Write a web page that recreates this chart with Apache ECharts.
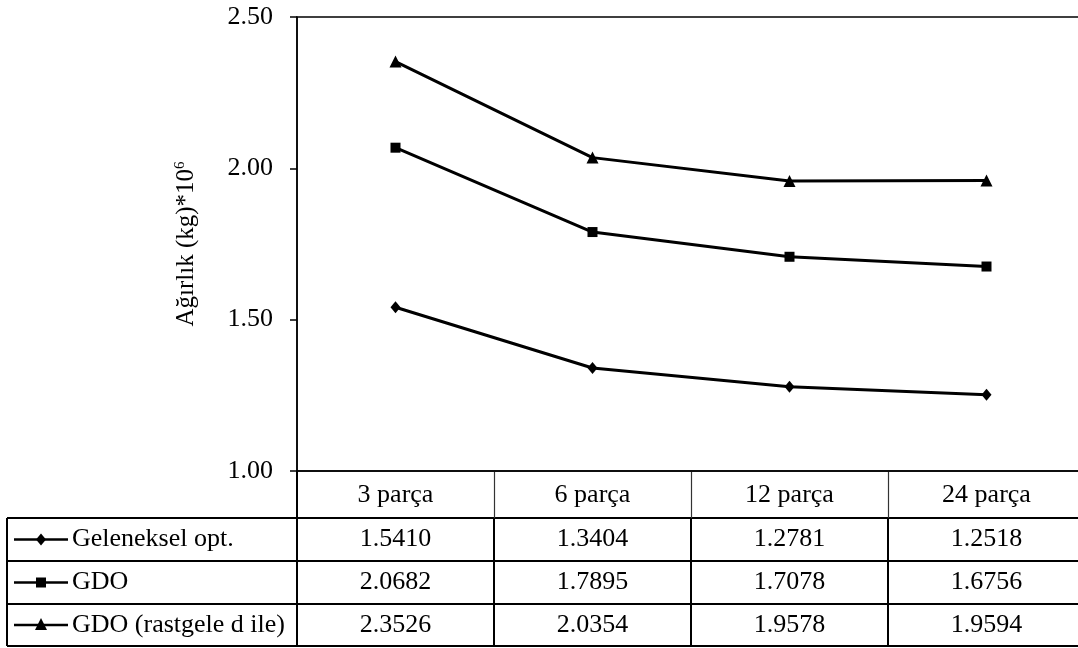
<!DOCTYPE html>
<html>
<head>
<meta charset="utf-8">
<script src="https://cdn.jsdelivr.net/npm/echarts@6/dist/echarts.min.js"></script>
<style>
  html, body { margin: 0; padding: 0; background: #fff; }
  #chart { width: 1078px; height: 648px; }
</style>
</head>
<body>
<div id="chart"></div>
<script>
// Weight (kg)*10^6 for each partition count, three optimisation methods
const categories = ['3 parça', '6 parça', '12 parça', '24 parça'];
const seriesNames = ['Geleneksel opt.', 'GDO', 'GDO (rastgele d ile)'];
const geleneksel = [1.5410, 1.3404, 1.2781, 1.2518];
const gdo = [2.0682, 1.7895, 1.7078, 1.6756];
const gdoRastgele = [2.3526, 2.0354, 1.9578, 1.9594];
const seriesValues = [geleneksel, gdo, gdoRastgele];
const seriesSymbols = ['diamond', 'rect', 'triangle'];
const symbolSizes = [[10, 12], 10, 12];
const yMin = 1.0, yMax = 2.5, yStep = 0.5;

const FONT = '"Liberation Serif", "Times New Roman", serif';
const FS = 26;

// table geometry (rows below the plot)
const plotLeft = 297, plotTop = 17, plotWidth = 788, plotBottom = 471;
const rowLines = [518, 561, 604, 646];
const tableLeft = 7;

const chart = echarts.init(document.getElementById('chart'), null, { renderer: 'canvas' });

const series = seriesNames.map((name, i) => ({
  name: name,
  type: 'line',
  data: seriesValues[i],
  symbol: seriesSymbols[i],
  symbolSize: symbolSizes[i],
  showAllSymbol: true,
  lineStyle: { color: '#000', width: 3 },
  itemStyle: { color: '#000' },
  animation: false
}));

chart.setOption({
  animation: false,
  textStyle: { fontFamily: FONT },
  grid: {
    left: plotLeft, top: plotTop, width: plotWidth, height: plotBottom - plotTop,
    show: true, borderColor: '#000', borderWidth: 1.5,
    containLabel: false, outerBoundsMode: 'none'
  },
  xAxis: {
    type: 'category',
    data: categories,
    boundaryGap: true,
    axisLine: { show: true, lineStyle: { color: '#000', width: 1.5 } },
    axisTick: { show: false },
    axisLabel: { show: true, color: '#000', fontFamily: FONT, fontSize: FS, margin: 11 },
    splitLine: { show: false }
  },
  yAxis: {
    type: 'value',
    min: yMin, max: yMax, interval: yStep,
    name: 'Ağırlık (kg)*10{sup|6}',
    nameLocation: 'middle',
    nameRotate: 90,
    nameGap: 97,
    nameTextStyle: {
      color: '#000', fontFamily: FONT, fontSize: 25,
      rich: { sup: { fontSize: 15, fontFamily: FONT, color: '#000', padding: [0, 0, 12, 0] } }
    },
    axisLine: { show: true, lineStyle: { color: '#000', width: 1.5 } },
    axisTick: { show: true, inside: false, length: 7, lineStyle: { color: '#000', width: 1.5 } },
    axisLabel: { color: '#000', fontFamily: FONT, fontSize: FS, margin: 24, formatter: v => v.toFixed(2) },
    splitLine: { show: false }
  },
  series: series
});

// data table under the plot, columns aligned with the category axis
function buildTable() {
  const centers = categories.map((c, i) => chart.convertToPixel({ xAxisIndex: 0 }, i));
  const band = centers[1] - centers[0];
  const els = [];
  const stroke = { stroke: '#000', lineWidth: 2 };

  // axis line continues down through the table
  els.push({ type: 'line', shape: { x1: plotLeft, y1: plotBottom, x2: plotLeft, y2: rowLines[3] }, style: stroke });
  // horizontal row rules
  rowLines.forEach(y => {
    els.push({ type: 'line', shape: { x1: tableLeft, y1: y, x2: 1078, y2: y }, style: stroke });
  });
  // outer left edge
  els.push({ type: 'line', shape: { x1: tableLeft, y1: rowLines[0], x2: tableLeft, y2: rowLines[3] }, style: stroke });
  // column dividers
  centers.forEach((cx, i) => {
    const xr = Math.round(cx + band / 2);
    els.push({ type: 'line', shape: { x1: xr + 0.5, y1: plotBottom, x2: xr + 0.5, y2: rowLines[0] }, style: { stroke: '#333', lineWidth: 1.2 } });
    els.push({ type: 'line', shape: { x1: xr, y1: rowLines[0], x2: xr, y2: rowLines[3] }, style: stroke });
  });

  seriesValues.forEach((vals, r) => {
    const yc = (rowLines[r] + rowLines[r + 1]) / 2;
    // legend key: line with marker
    els.push({ type: 'line', shape: { x1: 14, y1: yc, x2: 68, y2: yc }, style: { stroke: '#000', lineWidth: 2.5 } });
    const mx = 41;
    if (seriesSymbols[r] === 'diamond') {
      els.push({ type: 'polygon', shape: { points: [[mx, yc - 6], [mx + 5, yc], [mx, yc + 6], [mx - 5, yc]] }, style: { fill: '#000' } });
    } else if (seriesSymbols[r] === 'rect') {
      els.push({ type: 'rect', shape: { x: mx - 5, y: yc - 5, width: 10, height: 10 }, style: { fill: '#000' } });
    } else {
      els.push({ type: 'polygon', shape: { points: [[mx, yc - 7], [mx + 6, yc + 5], [mx - 6, yc + 5]] }, style: { fill: '#000' } });
    }
    els.push({ type: 'text', x: 72, y: yc, style: { text: seriesNames[r], fill: '#000', font: FS + 'px ' + FONT, textAlign: 'left', textVerticalAlign: 'middle' } });
    vals.forEach((v, i) => {
      els.push({ type: 'text', x: centers[i], y: yc, style: { text: v.toFixed(4), fill: '#000', font: FS + 'px ' + FONT, textAlign: 'center', textVerticalAlign: 'middle' } });
    });
  });

  chart.setOption({ graphic: { elements: els.map(e => Object.assign({ silent: true }, e)) } });
}
buildTable();
</script>
</body>
</html>
